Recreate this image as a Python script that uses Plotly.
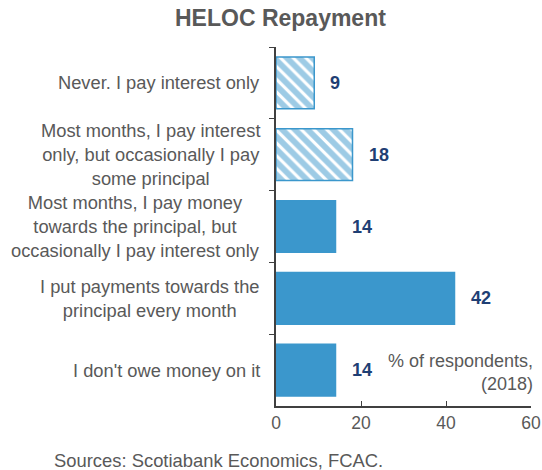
import plotly.graph_objects as go

# Survey responses on how HELOC balances are repaid (% of respondents, 2018)
categories = [
    "Never. I pay interest only",
    "Most months, I pay interest<br>only, but occasionally I pay<br>some principal",
    "Most months, I pay money<br>towards the principal, but<br>occasionally I pay interest only",
    "I put payments towards the<br>principal every month",
    "I don't owe money on it",
]
values = [9, 18, 14, 42, 14]
interest_heavy = [True, True, False, False, False]  # hatched bars
x_ticks = [0, 20, 40, 60]

BLUE = "#3b97cc"
NAVY = "#1f3f74"
GRAY = "#595959"
AXIS = "#404040"
FONT = "Liberation Sans, Arial, sans-serif"

W, H = 542, 470
L, R, T, B = 276, 11, 47, 64
PW, PH = W - L - R, H - T - B


def px_x(x):
    return (x - L) / PW


def px_y(y):
    return (H - B - y) / PH


fig = go.Figure()

for hatched in (True, False):
    idx = [i for i, h in enumerate(interest_heavy) if h == hatched]
    if hatched:
        marker = dict(
            color="white",
            line=dict(color=BLUE, width=1.5),
            pattern=dict(shape="\\", fgcolor=BLUE, bgcolor="white", size=9, solidity=0.65),
        )
    else:
        marker = dict(color=BLUE, line=dict(color=BLUE, width=1.5))
    fig.add_trace(go.Bar(
        x=[values[i] for i in idx],
        y=[categories[i] for i in idx],
        orientation="h",
        marker=marker,
        width=0.72,
        showlegend=False,
        hoverinfo="skip",
    ))

annotations = []
# value labels next to each bar
for cat, v in zip(categories, values):
    annotations.append(dict(
        x=v, y=cat, xref="x", yref="y", text=f"<b>{v}</b>",
        showarrow=False, xanchor="left", xshift=14,
        font=dict(family=FONT, size=18, color=NAVY),
    ))
# category labels: centered multi-line text, block right-aligned to the axis
for cat in categories:
    annotations.append(dict(
        x=0, y=cat, xref="paper", yref="y", text=cat,
        showarrow=False, xanchor="right", xshift=-14, align="center",
        font=dict(family=FONT, size=18.3, color=GRAY),
    ))
annotations += [
    dict(x=1, y=px_y(372), xref="paper", yref="paper", xanchor="right", yanchor="middle",
         align="right", showarrow=False, xshift=4,
         text="% of respondents,<br>(2018)",
         font=dict(family=FONT, size=18, color=GRAY)),
    dict(x=px_x(280), y=px_y(18), xref="paper", yref="paper", showarrow=False,
         xanchor="center", yanchor="middle",
         text="<b>HELOC Repayment</b>",
         font=dict(family=FONT, size=23, color=GRAY)),
    dict(x=px_x(52), y=px_y(461), xref="paper", yref="paper",
         xanchor="left", yanchor="middle", showarrow=False,
         text="Sources: Scotiabank Economics, FCAC.",
         font=dict(family=FONT, size=18.4, color=GRAY)),
]

fig.update_layout(
    width=W, height=H,
    margin=dict(l=L, r=R, t=T, b=B, autoexpand=False),
    paper_bgcolor="white", plot_bgcolor="white",
    bargap=0.28,
    annotations=annotations,
    xaxis=dict(
        range=[0, 60], tickvals=x_ticks, ticks="inside", ticklen=5,
        tickcolor=AXIS, showline=True, linecolor=AXIS, linewidth=1.5,
        showgrid=False, zeroline=False, automargin=False,
        tickfont=dict(family=FONT, size=17.5, color=GRAY),
    ),
    yaxis=dict(
        categoryorder="array", categoryarray=categories, autorange="reversed",
        showticklabels=False, ticks="outside", tickson="boundaries", ticklen=5,
        tickcolor=AXIS, showline=True, linecolor=AXIS, linewidth=1.5,
        showgrid=False, zeroline=False, automargin=False,
    ),
)

fig.write_html("out.html")
